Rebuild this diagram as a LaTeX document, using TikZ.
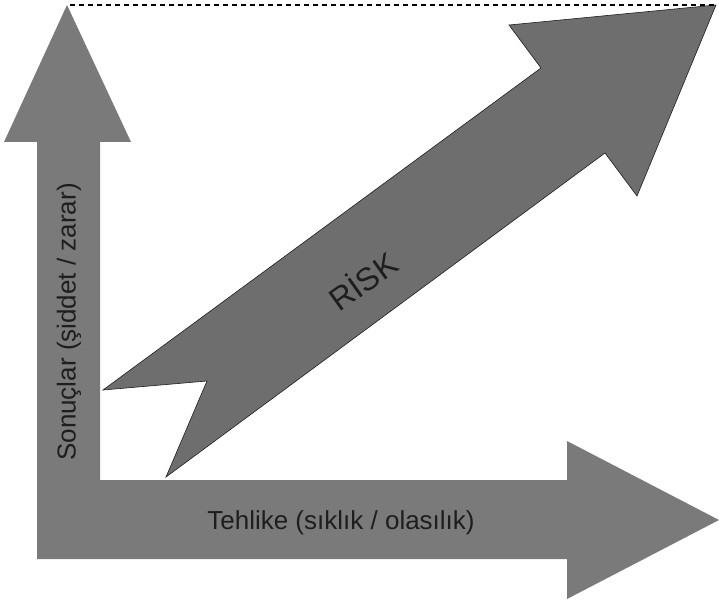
\documentclass[tikz,border=0pt]{standalone}
\usepackage{fontspec}
\setmainfont{Liberation Sans}
\usetikzlibrary{calc}
\definecolor{axisgray}{HTML}{7A7A7A}
\definecolor{riskgray}{HTML}{6E6E6E}
\definecolor{inkgray}{HTML}{1E1E1E}

\begin{document}
\begin{tikzpicture}[x=1pt,y=-1pt, line join=miter,
  axis/.style={fill=axisgray,draw=none},
  risk/.style={fill=riskgray,draw=inkgray,line width=0.6pt},
  lbl/.style={text=inkgray,font=\fontsize{26}{26}\selectfont,inner sep=0pt}]
\useasboundingbox (0,0) rectangle (719,604);
% L-shaped axes
\coordinate (O)  at (37,559);
\coordinate (X1) at (567,559);
\coordinate (X2) at (567,599);
\coordinate (XT) at (719,520);
\coordinate (X3) at (567,441);
\coordinate (X4) at (567,480);
\coordinate (C)  at (100,480);
\coordinate (Y4) at (100,142);
\coordinate (Y3) at (131,142);
\coordinate (YT) at (67,5);
\coordinate (Y2) at (4,142);
\coordinate (Y1) at (37,142);
\fill[axis] (O)--(X1)--(X2)--(XT)--(X3)--(X4)--(C)--(Y4)--(Y3)--(YT)--(Y2)--(Y1)--cycle;
% diagonal risk arrow
\coordinate (RA) at (103,390);
\coordinate (RN) at (207,381);
\coordinate (RB) at (166,477);
\coordinate (RC) at (605,153);
\coordinate (RD) at (637,196);
\coordinate (RT) at (716,5);
\coordinate (RE) at (509,25);
\coordinate (RF) at (541,68);
\draw[risk] (RA)--(RN)--(RB)--(RC)--(RD)--(RT)--(RE)--(RF)--cycle;
% top dashed line
\draw[dashed,dash pattern=on 5pt off 4pt,line width=1.5pt] ($(YT)+(3,0)$) -- (RT);
% labels
\node[lbl,rotate=90] (yl) at (69,322) {Sonuçlar (şiddet / zarar)};
\node[lbl] (xl) at (341,523) {Tehlike (sıklık / olasılık)};
\node[lbl,font=\fontsize{32}{32}\selectfont,rotate=35.5] (rl) at (362,280) {RİSK};
\end{tikzpicture}
\end{document}
